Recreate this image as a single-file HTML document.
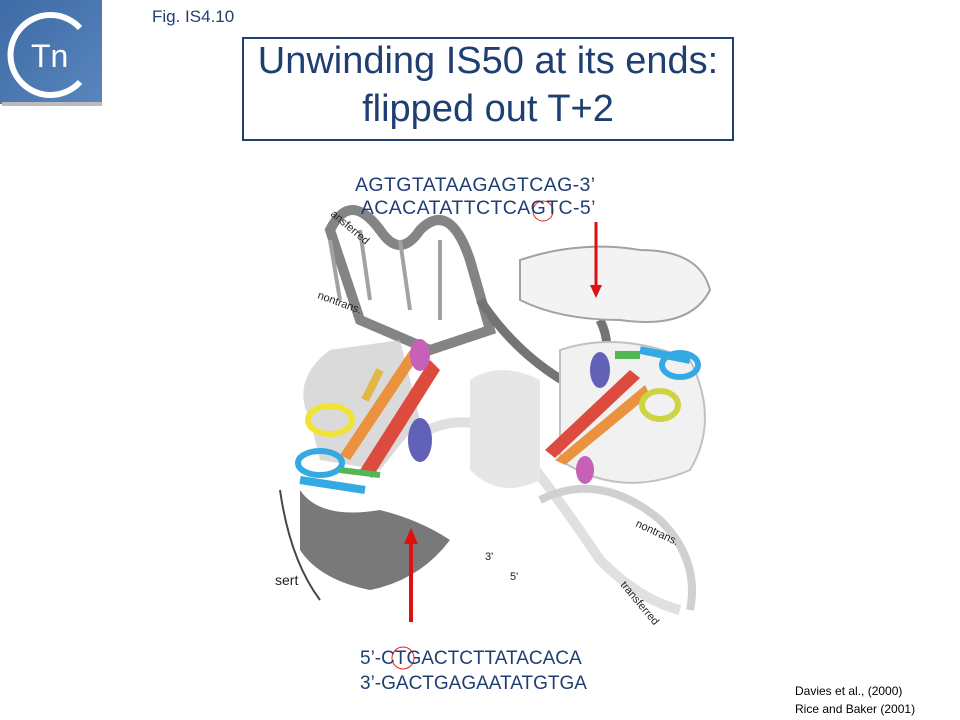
<!DOCTYPE html>
<html><head><meta charset="utf-8"><style>
body{margin:0;width:960px;height:720px;background:#fff;position:relative;overflow:hidden;font-family:"Liberation Sans",sans-serif}
.t{position:absolute;color:#1f3f73;white-space:nowrap}
</style></head><body>
<svg width="960" height="720" style="position:absolute;left:0;top:0">
<defs><linearGradient id="lg" x1="0" y1="0" x2="1" y2="1"><stop offset="0" stop-color="#3e6aa6"/><stop offset="1" stop-color="#5a86bd"/></linearGradient></defs>
<rect x="0" y="0" width="102" height="104" fill="url(#lg)"/>
<rect x="2" y="102" width="100" height="4" fill="#bbb"/>
<path d="M80 28 A40 40 0 1 0 80 82" fill="none" stroke="#fff" stroke-width="6"/>
<text x="31" y="67" font-family="Liberation Sans Narrow, Liberation Sans" font-size="32" fill="#fff">Tn</text>
<rect x="243" y="38" width="490" height="102" fill="none" stroke="#1f3f73" stroke-width="2"/>
<g opacity="0.9">
<path d="M330 230 Q350 190 380 230 Q400 260 420 230 Q450 200 470 260 L490 330 L430 350 L360 320 Z" fill="none" stroke="#777" stroke-width="10"/>
<path d="M330 240 L340 300 M360 230 L370 300 M400 240 L410 310 M440 240 L440 320" stroke="#999" stroke-width="4"/>
<path d="M480 300 Q520 360 580 390 Q620 360 600 320" fill="none" stroke="#666" stroke-width="9"/>
<path d="M520 260 Q580 240 640 250 Q700 250 710 290 Q690 330 620 320 Q560 320 520 300 Z" fill="#f2f2f2" stroke="#999" stroke-width="2"/>
<path d="M310 420 Q290 380 330 350 L400 340 L420 420 L380 470 L320 460 Z" fill="#bbb" opacity="0.6"/>
<path d="M300 490 Q320 520 380 510 Q420 520 450 540 Q420 580 370 590 Q320 580 300 550 Z" fill="#6b6b6b"/>
<path d="M280 490 Q290 560 320 600" fill="none" stroke="#333" stroke-width="2"/>
<path d="M410 440 Q470 400 520 450 Q560 500 600 560 Q640 600 680 610" fill="none" stroke="#ddd" stroke-width="10"/>
<path d="M540 500 Q600 470 660 520 Q700 560 690 610" fill="none" stroke="#ccc" stroke-width="8"/>
<path d="M560 350 Q620 330 690 360 Q720 420 690 470 Q620 500 560 460 Z" fill="#f0f0f0" stroke="#bbb" stroke-width="2"/>
<path d="M470 380 Q500 360 540 380 L540 480 Q500 500 470 470 Z" fill="#e4e4e4"/>
<path d="M360 470 L430 360 L440 370 L372 478 Z" fill="#d9382a"/>
<path d="M350 460 L420 355 L410 350 L340 455 Z" fill="#e8872a"/>
<path d="M365 400 L380 370" stroke="#e0b030" stroke-width="8"/>
<ellipse cx="330" cy="420" rx="22" ry="14" fill="none" stroke="#f0e020" stroke-width="6"/>
<ellipse cx="320" cy="463" rx="22" ry="12" fill="none" stroke="#20a0e0" stroke-width="6"/>
<path d="M300 480 L365 490" stroke="#20a0e0" stroke-width="8"/>
<path d="M340 470 L380 475" stroke="#40b040" stroke-width="6"/>
<ellipse cx="420" cy="440" rx="12" ry="22" fill="#5050b0"/>
<ellipse cx="420" cy="355" rx="10" ry="16" fill="#c050b0"/>
<path d="M545 450 L630 370 L640 378 L555 458 Z" fill="#d9382a"/>
<path d="M555 460 L645 385 L650 395 L565 465 Z" fill="#e8872a"/>
<ellipse cx="660" cy="405" rx="18" ry="14" fill="none" stroke="#c8d030" stroke-width="6"/>
<ellipse cx="680" cy="365" rx="18" ry="12" fill="none" stroke="#20a0e0" stroke-width="6"/>
<path d="M640 350 L690 360" stroke="#20a0e0" stroke-width="8"/>
<path d="M615 355 L640 355" stroke="#40b040" stroke-width="8"/>
<ellipse cx="600" cy="370" rx="10" ry="18" fill="#5050b0"/>
<ellipse cx="585" cy="470" rx="9" ry="14" fill="#c050b0"/>
</g>
<line x1="596" y1="222" x2="596" y2="287" stroke="#e01010" stroke-width="3"/>
<polygon points="590,285 602,285 596,298" fill="#e01010"/>
<line x1="411" y1="622" x2="411" y2="542" stroke="#e01010" stroke-width="4"/>
<polygon points="404,544 418,544 411,528" fill="#e01010"/>
<circle cx="543" cy="211" r="10" fill="none" stroke="#e02020" stroke-width="1"/>
<circle cx="403" cy="658" r="11" fill="none" stroke="#e02020" stroke-width="1"/>
<g font-family="Liberation Sans" font-size="11" fill="#222">
<text x="330" y="215" transform="rotate(40 330 215)">ansferred</text>
<text x="317" y="298" transform="rotate(20 317 298)">nontrans.</text>
<text x="635" y="526" transform="rotate(25 635 526)">nontrans.</text>
<text x="620" y="585" transform="rotate(50 620 585)">transferred</text>
<text x="485" y="560">3'</text><text x="510" y="580">5'</text>
<text x="275" y="585" font-size="14">sert</text>
</g>
</svg>
<div class="t" style="left:243px;top:7px;left:152px;font-size:17px">Fig. IS4.10</div>
<div class="t" style="left:243px;top:37px;width:490px;text-align:center;font-size:38px;line-height:48px;letter-spacing:0">Unwinding IS50 at its ends:<br>flipped out T+2</div>
<div class="t" style="left:355px;top:174px;font-size:19.5px;line-height:23px;letter-spacing:0.4px">AGTGTATAAGAGTCAG-3’<br>&nbsp;ACACATATTCTCAGTC-5’</div>
<div class="t" style="left:360px;top:646px;font-size:19px;line-height:25px;letter-spacing:0">5’-CTGACTCTTATACACA<br>3’-GACTGAGAATATGTGA</div>
<div class="t" style="left:795px;top:682px;font-size:12px;color:#000;line-height:18px">Davies et al., (2000)<br>Rice and Baker (2001)</div>
</body></html>
